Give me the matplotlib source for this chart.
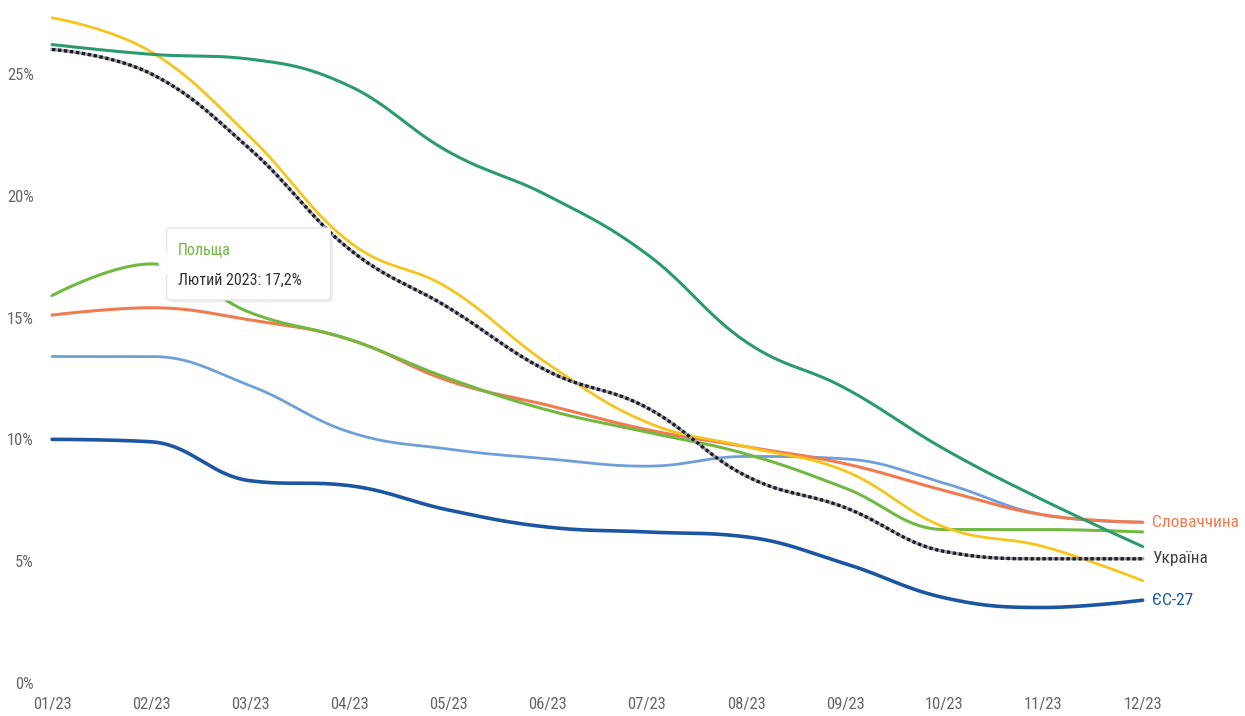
import numpy as np
import matplotlib
matplotlib.use("Agg")
import matplotlib.pyplot as plt
from matplotlib import font_manager
from matplotlib.patches import FancyBboxPatch, Polygon

# ---------------- data ----------------
months = ["01/23", "02/23", "03/23", "04/23", "05/23", "06/23",
          "07/23", "08/23", "09/23", "10/23", "11/23", "12/23"]
y_ticks = [0, 5, 10, 15, 20, 25]

dark_green = [26.2, 25.8, 25.6, 24.5, 21.8, 20.0, 17.6, 14.0, 12.1, 9.6, 7.5, 5.6]
yellow     = [27.3, 25.9, 22.4, 18.1, 16.2, 13.1, 10.7, 9.7, 8.7, 6.4, 5.6, 4.2]
poland     = [15.9, 17.2, 15.2, 14.1, 12.5, 11.2, 10.3, 9.4, 8.0, 6.3, 6.3, 6.2]
slovakia   = [15.1, 15.4, 14.9, 14.1, 12.4, 11.4, 10.4, 9.7, 9.0, 7.9, 6.9, 6.6]
light_blue = [13.4, 13.4, 12.2, 10.3, 9.6, 9.2, 8.9, 9.3, 9.2, 8.2, 6.9, 6.6]
eu27       = [10.0, 9.9, 8.3, 8.1, 7.1, 6.4, 6.2, 6.0, 4.9, 3.5, 3.1, 3.4]
ukraine    = [26.0, 25.0, 21.9, 17.8, 15.4, 12.8, 11.3, 8.5, 7.2, 5.4, 5.1, 5.1]

label_slovakia = "Словаччина"
label_ukraine = "Україна"
label_eu = "ЄС-27"
tooltip_title = "Польща"
tooltip_text = "Лютий 2023: 17,2%"
tooltip_index = 1

# ---------------- fonts ----------------
avail = {f.name for f in font_manager.fontManager.ttflist}
fam = None
for cand in ["Roboto Condensed", "Liberation Sans Narrow", "DejaVu Sans Condensed", "Roboto"]:
    if cand in avail:
        fam = cand
        break
if fam is None:
    fam = "DejaVu Sans"
plt.rcParams["font.family"] = [fam, "DejaVu Sans"]


def spline(xs, ys, n=40):
    """Highcharts-like spline (smoothing 1.5) evaluated as cubic Beziers."""
    xs = np.asarray(xs, float)
    ys = np.asarray(ys, float)
    m = len(xs)
    lc = np.zeros((m, 2))
    rc = np.zeros((m, 2))
    sm, den = 1.5, 2.5
    for i in range(m):
        x, y = xs[i], ys[i]
        if i == 0 or i == m - 1:
            lc[i] = (x, y)
            rc[i] = (x, y)
            continue
        lx, ly = xs[i - 1], ys[i - 1]
        nx, ny = xs[i + 1], ys[i + 1]
        lcx = (sm * x + lx) / den
        lcy = (sm * y + ly) / den
        rcx = (sm * x + nx) / den
        rcy = (sm * y + ny) / den
        if rcx != lcx:
            corr = ((rcy - lcy) * (rcx - x)) / (rcx - lcx) + y - rcy
            lcy += corr
            rcy += corr
        if lcy > ly and lcy > y:
            lcy = max(ly, y); rcy = 2 * y - lcy
        elif lcy < ly and lcy < y:
            lcy = min(ly, y); rcy = 2 * y - lcy
        if rcy > ny and rcy > y:
            rcy = max(ny, y); lcy = 2 * y - rcy
        elif rcy < ny and rcy < y:
            rcy = min(ny, y); lcy = 2 * y - rcy
        lc[i] = (lcx, lcy)
        rc[i] = (rcx, rcy)
    px, py = [], []
    t = np.linspace(0, 1, n)
    for i in range(1, m):
        p0 = np.array([xs[i - 1], ys[i - 1]])
        p1 = rc[i - 1]
        p2 = lc[i]
        p3 = np.array([xs[i], ys[i]])
        b = ((1 - t) ** 3)[:, None] * p0 + (3 * (1 - t) ** 2 * t)[:, None] * p1 \
            + (3 * (1 - t) * t ** 2)[:, None] * p2 + (t ** 3)[:, None] * p3
        if i > 1:
            b = b[1:]
        px.extend(b[:, 0]); py.extend(b[:, 1])
    return np.array(px), np.array(py)


fig = plt.figure(figsize=(12.45, 7.16), dpi=100)
ax = fig.add_axes([0.0418, 0.046, 0.876, 0.936])
x = np.arange(len(months))

series = [
    (light_blue, "#6f9fd8", 2.0),
    (eu27, "#1c56a3", 2.6),
    (slovakia, "#ef7b4f", 2.2),
    (poland, "#72b843", 2.2),
    (yellow, "#f4c51d", 2.0),
    (dark_green, "#2b9a6c", 2.2),
]
for vals, col, lw in series:
    sx, sy = spline(x, vals)
    ax.plot(sx, sy, color=col, lw=lw, solid_capstyle="round", clip_on=False, zorder=3)

ux, uy = spline(x, ukraine)
ax.plot(ux, uy, color="#a0a0a0", lw=2.3, clip_on=False, zorder=4)
ax.plot(ux, uy, color="#1a1a2a", lw=2.4, linestyle=(0, (1.0, 0.8)), clip_on=False, zorder=5)

ax.set_xlim(0, len(months) - 1)
ax.set_ylim(0, 27.5)
ax.set_xticks(x)
ax.set_xticklabels(months)
ax.set_yticks(y_ticks)
ax.set_yticklabels([f"{v}%" for v in y_ticks])
for s in ax.spines.values():
    s.set_visible(False)
ax.tick_params(axis="both", length=0, colors="#666666", labelsize=12)
ax.tick_params(axis="y", pad=13)
ax.tick_params(axis="x", pad=10)
ax.patch.set_alpha(0)

# end labels
last = len(months) - 1
ax.annotate(label_slovakia, (last, slovakia[-1]), xytext=(7, 0), textcoords="offset points",
            va="center", ha="left", color="#ef7b4f", fontsize=12.5, annotation_clip=False)
ax.annotate(label_ukraine, (last, ukraine[-1]), xytext=(7, 0), textcoords="offset points",
            va="center", ha="left", color="#444444", fontsize=12.5, annotation_clip=False)
ax.annotate(label_eu, (last, eu27[-1]), xytext=(7, 0), textcoords="offset points",
            va="center", ha="left", color="#1c56a3", fontsize=12.5, annotation_clip=False)

# tooltip
ti = tooltip_index
ax.annotate(tooltip_title, (x[ti], poland[ti]), xytext=(19, 10), textcoords="offset points",
            va="center", ha="left", color="#72b843", fontsize=11.5, zorder=11, annotation_clip=False)
ax.annotate(tooltip_text, (x[ti], poland[ti]), xytext=(19, -12), textcoords="offset points",
            va="center", ha="left", color="#333333", fontsize=11.5, zorder=11, annotation_clip=False)

pt = ax.transData.transform((x[ti], poland[ti]))
bw, bh = 118, 52  # points
ox, oy = 11, -26
inv = fig.transFigure.inverted()


def to_fig(dx, dy):
    return inv.transform((pt[0] + dx * fig.dpi / 72, pt[1] + dy * fig.dpi / 72))


c0 = to_fig(ox, oy)
c1 = to_fig(ox + bw, oy + bh)
shadow = FancyBboxPatch((c0[0] + 0.002, c0[1] - 0.004), c1[0] - c0[0], c1[1] - c0[1],
                        boxstyle="round,pad=0,rounding_size=0.004", transform=fig.transFigure,
                        facecolor="#000000", alpha=0.06, edgecolor="none", zorder=9)
rect = FancyBboxPatch((c0[0], c0[1]), c1[0] - c0[0], c1[1] - c0[1],
                      boxstyle="round,pad=0,rounding_size=0.004", transform=fig.transFigure,
                      facecolor="white", edgecolor="#e6e6e6", lw=1, zorder=10)
tri = Polygon([to_fig(ox + 0.5, 8), to_fig(ox - 6, 0), to_fig(ox + 0.5, -8)], closed=True,
              transform=fig.transFigure, facecolor="white", edgecolor="none", zorder=10.5)
for a in (shadow, rect, tri):
    ax.add_artist(a)
    a.set_clip_on(False)

fig.savefig("out.png", dpi=100, facecolor="white")
